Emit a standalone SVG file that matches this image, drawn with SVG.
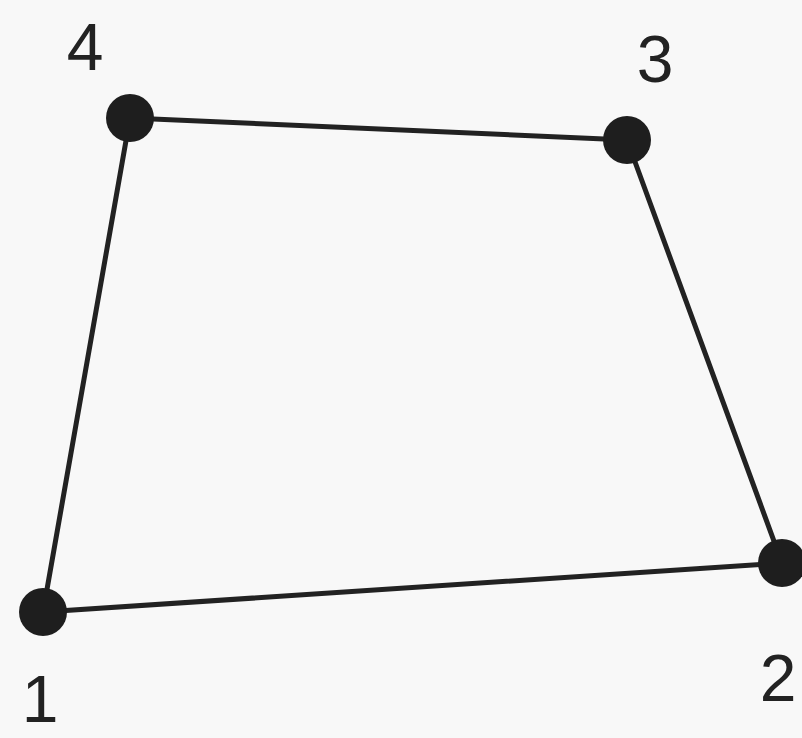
<svg xmlns="http://www.w3.org/2000/svg" width="802" height="738" viewBox="0 0 802 738">
<style>
.edge{stroke:#222;stroke-width:5;fill:none;stroke-linecap:round}
.dot{fill:#1e1e1e}
.lbl{font-family:"Liberation Sans",Arial,sans-serif;font-size:66px;fill:#222;text-anchor:middle}
</style>
<rect width="802" height="738" fill="#f8f8f8"/>
<g id="connectors">
<line class="edge" x1="43" y1="612" x2="782" y2="563"/>
<line class="edge" x1="782" y1="563" x2="627" y2="140"/>
<line class="edge" x1="627" y1="140" x2="130" y2="118"/>
<line class="edge" x1="130" y1="118" x2="43" y2="612"/>
</g>
<g id="node1"><circle class="dot" cx="43" cy="612" r="24"/><text class="lbl" x="40" y="722">1</text></g>
<g id="node2"><circle class="dot" cx="782" cy="563" r="24"/><text class="lbl" x="778" y="701">2</text></g>
<g id="node3"><circle class="dot" cx="627" cy="140" r="24"/><text class="lbl" x="655" y="82">3</text></g>
<g id="node4"><circle class="dot" cx="130" cy="118" r="24"/><text class="lbl" x="85" y="70">4</text></g>
</svg>
